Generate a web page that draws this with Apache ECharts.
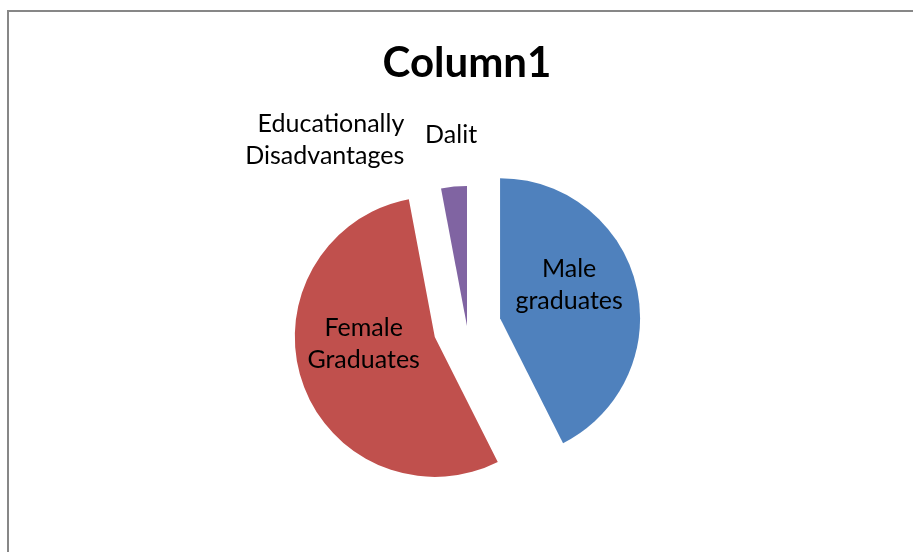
<!DOCTYPE html>
<html>
<head>
<meta charset="utf-8">
<script src="https://cdn.jsdelivr.net/npm/echarts@6/dist/echarts.min.js"></script>
<style>
  html, body { margin: 0; padding: 0; background: #fff; }
  #main { width: 913px; height: 552px; }
</style>
</head>
<body>
<div id="main"></div>
<script>
// slice names and values
const categories = ['Male\ngraduates', 'Female\nGraduates', 'Educationally\nDisadvantages', 'Dalit']
const values = [43, 55, 0, 3]
const colors = ['#4F81BD', '#C0504D', '#9BBB59', '#8064A2']
const exploded = [true, true, false, false]
const insideLabel = [true, true, false, false]
// nudges so labels sit where excel put them
const labelDx = [-2, -2, -28, 30]
const labelDy = [-16, -16, -29, -32]

const font = 'Lato, "Open Sans", sans-serif'
const chart = echarts.init(document.getElementById('main'))

const data = categories.map((name, i) => ({
  name: name,
  value: values[i],
  selected: exploded[i],
  itemStyle: { color: colors[i] },
  label: { position: insideLabel[i] ? 'inside' : 'outside' }
}))

const option = {
  animation: false,
  title: {
    text: 'Column1',
    left: 467,
    top: 42,
    padding: 0,
    textAlign: 'center',
    textStyle: { fontFamily: font, fontWeight: 'bold', fontSize: 42, color: '#000' }
  },
  graphic: [{
    type: 'rect',
    shape: { x: 8, y: 11, width: 940, height: 600 },
    style: { fill: 'none', stroke: '#878787', lineWidth: 2 },
    silent: true
  }],
  series: [{
    type: 'pie',
    center: [467, 326],
    radius: 140,
    startAngle: 90,
    clockwise: true,
    selectedMode: 'multiple',
    selectedOffset: 34,
    avoidLabelOverlap: false,
    minShowLabelAngle: -1,
    data: data,
    itemStyle: { borderWidth: 0 },
    select: { itemStyle: { borderWidth: 0 } },
    emphasis: { disabled: true },
    label: {
      show: true,
      formatter: '{b}',
      fontFamily: font,
      fontSize: 25,
      lineHeight: 32,
      color: '#000',
      align: 'center'
    },
    labelLine: { show: false, length: 20, length2: 0 },
    labelLayout: function (p) {
      return { dx: labelDx[p.dataIndex], dy: labelDy[p.dataIndex] }
    }
  }]
}
chart.setOption(option)
</script>
</body>
</html>
